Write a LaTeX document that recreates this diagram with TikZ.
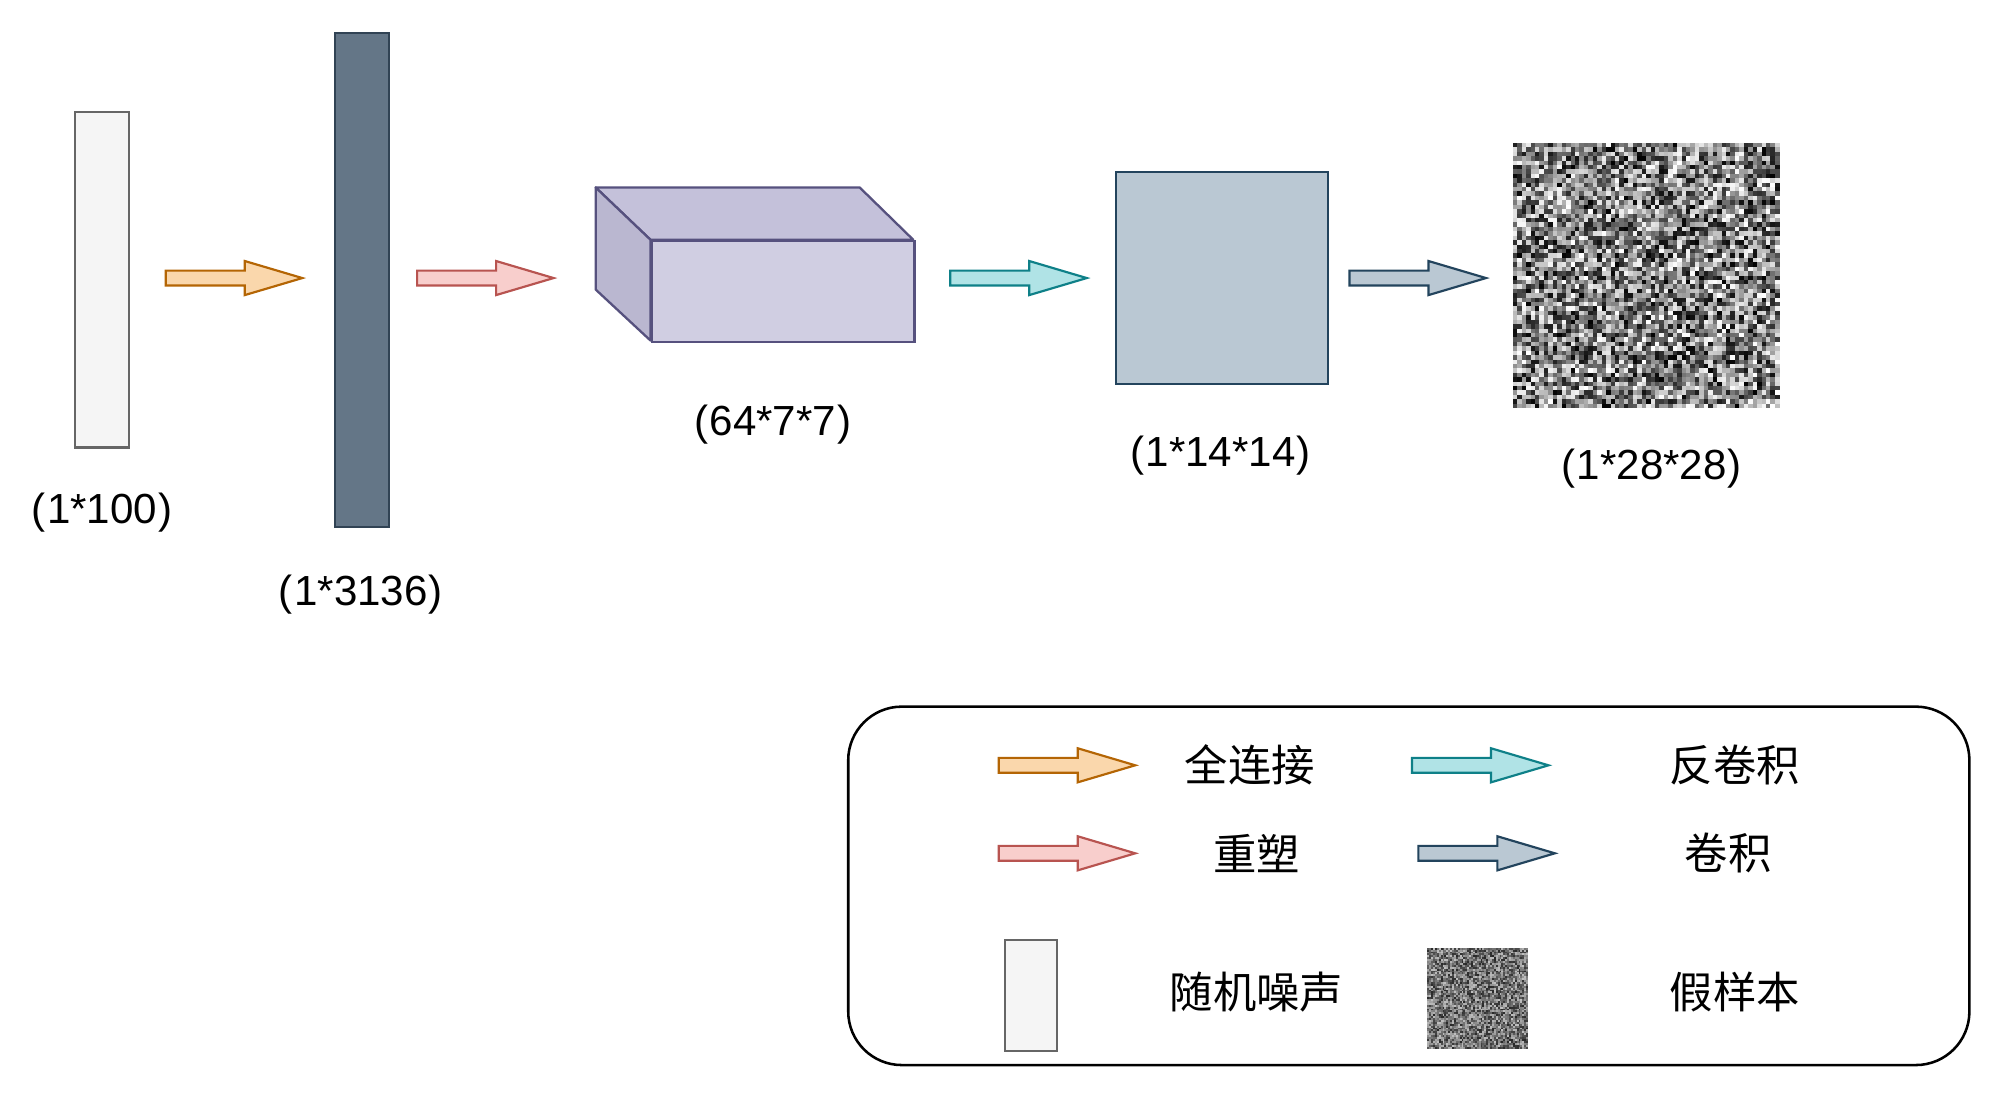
\documentclass[tikz,border=0pt]{standalone}
\usepackage{fontspec}
\setmainfont{Liberation Sans}
\newfontfamily\cjk{Noto Sans CJK SC}
\usetikzlibrary{shapes.arrows}
\definecolor{noiseF}{HTML}{F5F5F5}
\definecolor{noiseD}{HTML}{666666}
\definecolor{darkF}{HTML}{647687}
\definecolor{darkD}{HTML}{314354}
\definecolor{orF}{HTML}{FAD7AC}
\definecolor{orD}{HTML}{B46504}
\definecolor{rdF}{HTML}{F8CECC}
\definecolor{rdD}{HTML}{B85450}
\definecolor{tlF}{HTML}{B0E3E6}
\definecolor{tlD}{HTML}{0E8088}
\definecolor{bgF}{HTML}{BAC8D3}
\definecolor{bgD}{HTML}{23445D}
\definecolor{puF}{HTML}{D0CEE2}
\definecolor{puT}{HTML}{C4C1DA}
\definecolor{puL}{HTML}{BAB7D0}
\definecolor{puD}{HTML}{56517E}
\begin{document}
\begin{tikzpicture}[x=1pt,y=-1pt,
  barrow/.style={single arrow, minimum height=107pt, inner sep=5pt,
    single arrow head extend=7.5pt, single arrow tip angle=33,
    line width=1.7pt, anchor=tip},
  orarrow/.style={barrow, draw=orD, fill=orF},
  rdarrow/.style={barrow, draw=rdD, fill=rdF},
  tlarrow/.style={barrow, draw=tlD, fill=tlF},
  bgarrow/.style={barrow, draw=bgD, fill=bgF},
  box/.style={draw, line width=1.8pt, inner sep=0pt, anchor=north west},
  lbl/.style={font=\fontsize{33}{38}\selectfont, inner sep=0pt},
  ltxt/.style={font=\cjk\fontsize{34}{40}\selectfont, inner sep=0pt},
  face/.style={draw=puD, line width=1.8pt, line join=round}]
\useasboundingbox[fill=white] (0,0) rectangle (1568,866);

% ---- main row ----
\node[box, draw=noiseD, fill=noiseF, minimum width=42pt, minimum height=263pt] (noise) at (58,87) {};
\node[lbl] (lnoise) at (80,402) {(\kern1pt1*100\kern1pt)};

\node[orarrow] (a1) at (240,218) {};

\node[box, draw=darkD, fill=darkF, minimum width=42pt, minimum height=387pt] (dense) at (262,25) {};
\node[lbl] (ldense) at (283,466) {(\kern1pt1*3136\kern1pt)};

\node[rdarrow] (a2) at (437,218) {};

% cuboid
\filldraw[face, fill=puT] (467,147) -- (674,147) -- (716,188) -- (510,188) -- cycle;
\filldraw[face, fill=puL] (467,147) -- (510,188) -- (510,267) -- (467,227) -- cycle;
\node[box, draw=puD, fill=puF, minimum width=206pt, minimum height=79pt] (cube) at (510,188) {};
\node[lbl] (lcube) at (606,333) {(\kern1pt64*7*7\kern1pt)};

\node[tlarrow] (a3) at (855,218) {};

\node[box, draw=bgD, fill=bgF, minimum width=166pt, minimum height=166pt] (sq) at (874,134) {};
\node[lbl] (lsq) at (957,357) {(\kern1pt1*14*14\kern1pt)};

\node[bgarrow] (a4) at (1168,218) {};

% noise image
\pgfmathsetseed{7}
\foreach \i in {0,...,59}{\foreach \j in {0,...,59}{%
  \pgfmathparse{int(100*rnd)}%
  \fill[black!\pgfmathresult] ({1186+\i*3.4833},{112+\j*3.4667}) rectangle +(3.6,3.6);}}
\node[inner sep=0pt, minimum width=209pt, minimum height=208pt, anchor=north west] (img) at (1186,112) {};
\node[lbl] (limg) at (1295,367) {(\kern1pt1*28*28\kern1pt)};

% ---- legend ----
\node[draw=black, line width=2pt, rounded corners=42pt, minimum width=879pt, minimum height=281pt, anchor=north west] (legend) at (664,553) {};

\node[orarrow] (la1) at (893,600) {};
\node[ltxt] (t1) at (980,600) {全连接};
\node[tlarrow] (la3) at (1217,600) {};
\node[ltxt] (t3) at (1360,600) {反卷积};

\node[rdarrow] (la2) at (893,669) {};
\node[ltxt] (t2) at (985,669) {重塑};
\node[bgarrow] (la4) at (1222,669) {};
\node[ltxt] (t4) at (1355,669) {卷积};

\node[box, draw=noiseD, fill=noiseF, minimum width=41pt, minimum height=87pt] (lnoisebox) at (787,736) {};
\node[ltxt] (t5) at (985,778) {随机噪声};

\pgfmathsetseed{11}
\foreach \i in {0,...,52}{\foreach \j in {0,...,52}{%
  \pgfmathparse{int(25+60*rnd)}%
  \fill[black!\pgfmathresult] ({1119+\i*1.49},{743+\j*1.49}) rectangle +(1.6,1.6);}}
\node[inner sep=0pt, minimum width=79pt, minimum height=79pt, anchor=north west] (limgbox) at (1119,743) {};
\node[ltxt] (t6) at (1360,778) {假样本};
\end{tikzpicture}
\end{document}
